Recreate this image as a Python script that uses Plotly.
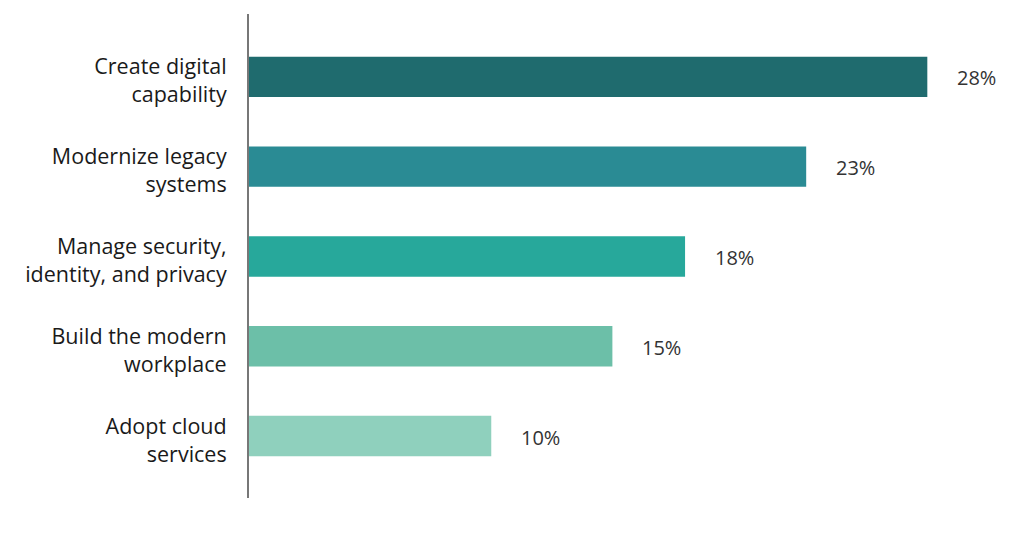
import plotly.graph_objects as go

categories = ["Create digital<br>capability", "Modernize legacy<br>systems",
              "Manage security,<br>identity, and privacy", "Build the modern<br>workplace",
              "Adopt cloud<br>services"]
values = [28, 23, 18, 15, 10]
labels = ["28%", "23%", "18%", "15%", "10%"]
colors = ["#1f6b6e", "#2a8b94", "#27a89b", "#6cbfa8", "#8fd0bd"]

fig = go.Figure()
fig.add_trace(go.Bar(
    x=values, y=categories, orientation="h",
    marker=dict(color=colors, line=dict(width=0)),
    width=0.45, hoverinfo="skip",
))
for c, v, t in zip(categories, values, labels):
    fig.add_annotation(x=v, y=c, text=t, showarrow=False, xanchor="left",
                       xshift=28, yshift=-1,
                       font=dict(family="Open Sans", size=20, color="#333333"))

fig.update_layout(
    width=1016, height=530,
    margin=dict(l=241, r=24, t=6, b=40, autoexpand=False),
    paper_bgcolor="white", plot_bgcolor="white",
    showlegend=False,
    font=dict(family="Open Sans", size=22, color="#1a1a1a"),
)
fig.update_xaxes(range=[0, 31], visible=False, fixedrange=True, automargin=False)
fig.update_yaxes(
    categoryorder="array", categoryarray=categories,
    range=[4.69, -0.7], autorange=False, automargin=False,
    showline=True, linecolor="#777777", linewidth=2,
    showgrid=False, zeroline=False, ticks="", ticklabelstandoff=16,
    ticklabelshift=-4,
    tickfont=dict(family="Open Sans", size=21.5, color="#1a1a1a", weight=500),
)
fig.write_html("out.html")
